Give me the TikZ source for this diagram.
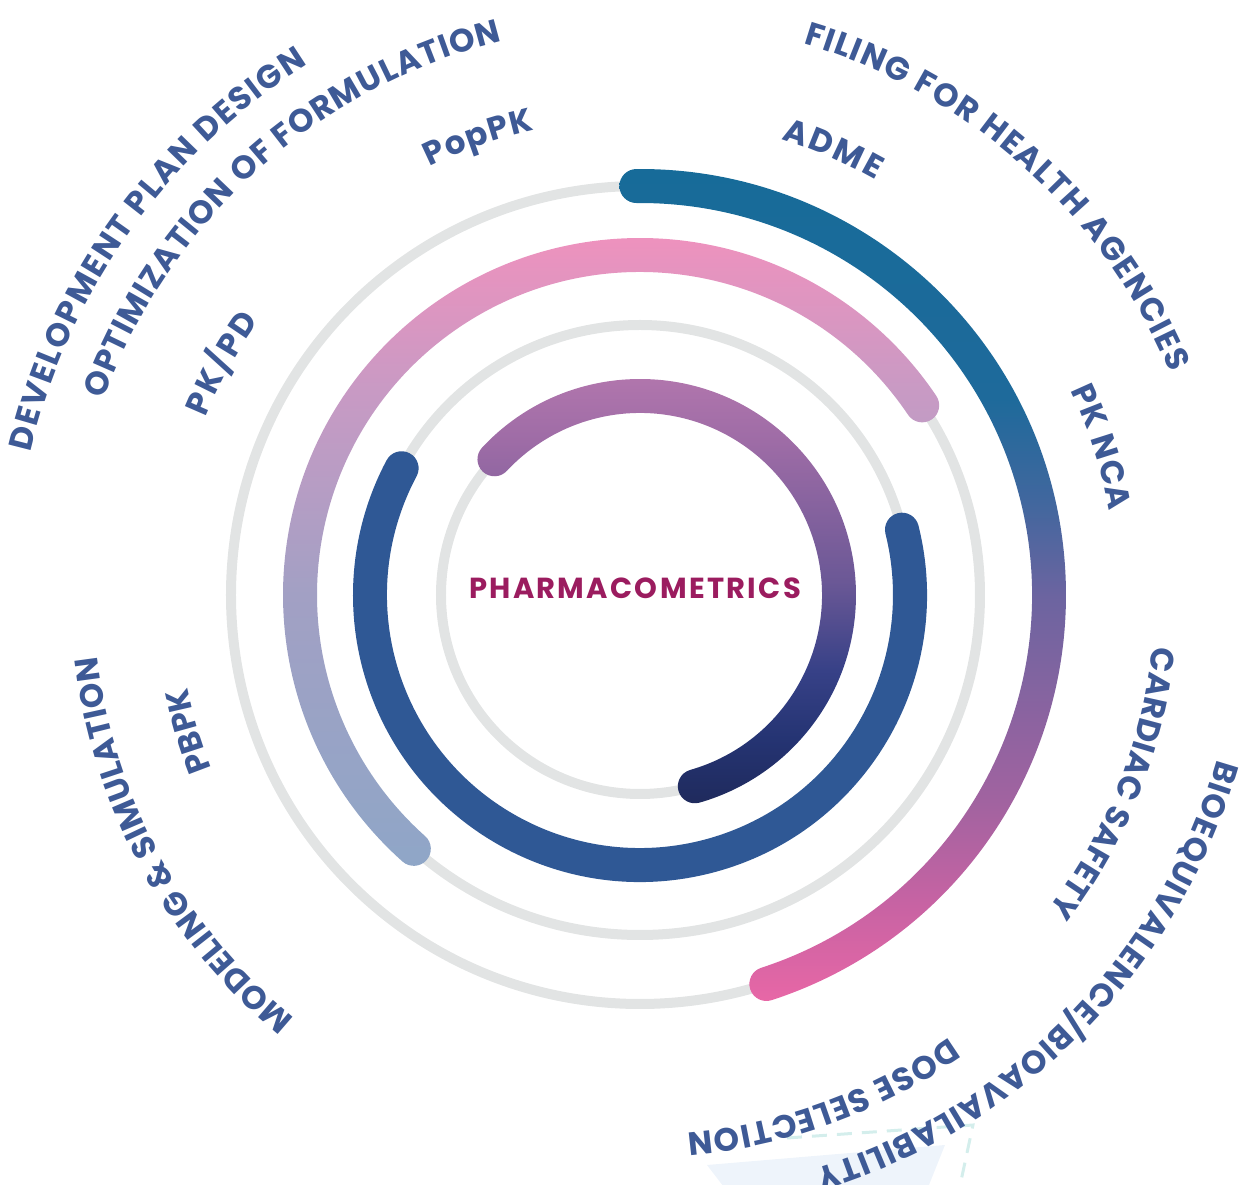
\documentclass[tikz,border=0pt]{standalone}
\usepackage{fontspec}
\setmainfont{Poppins}
\newfontfamily\labelfont{Poppins}
\newfontfamily\titlefont[LetterSpace=8]{Poppins}
\usetikzlibrary{decorations.text}

\definecolor{labelblue}{RGB}{62, 90, 150}
\definecolor{pharmaberry}{RGB}{155, 28, 95}
\definecolor{ringgray}{RGB}{226, 228, 228}
\definecolor{bandblue}{RGB}{47, 88, 149}
\definecolor{paleblue}{RGB}{238, 244, 251}
\definecolor{paleteal}{RGB}{212, 238, 236}
% outer band: teal to pink
\definecolor{tealA}{RGB}{23, 107, 153}
\definecolor{tealB}{RGB}{30, 106, 155}
\definecolor{tealC}{RGB}{65, 103, 158}
\definecolor{tealD}{RGB}{108, 100, 160}
\definecolor{tealE}{RGB}{162, 99, 160}
\definecolor{tealF}{RGB}{199, 99, 163}
\definecolor{tealG}{RGB}{232, 103, 166}
% third band: pink to lavender
\definecolor{rosA}{RGB}{242, 145, 189}
\definecolor{rosB}{RGB}{200, 154, 196}
\definecolor{rosC}{RGB}{175, 158, 196}
\definecolor{rosD}{RGB}{162, 160, 196}
\definecolor{rosE}{RGB}{143, 166, 199}
% inner band: mauve to navy
\definecolor{mauveA}{RGB}{183, 121, 175}
\definecolor{mauveB}{RGB}{158, 108, 166}
\definecolor{mauveC}{RGB}{107, 88, 150}
\definecolor{mauveD}{RGB}{55, 65, 135}
\definecolor{mauveE}{RGB}{37, 52, 115}
\definecolor{mauveF}{RGB}{31, 42, 92}

\pgfdeclareverticalshading{tealfade}{100bp}{color(0bp)=(tealG); color(25bp)=(tealG);
  color(31bp)=(tealF); color(36.9bp)=(tealE); color(49.3bp)=(tealD);
  color(55bp)=(tealC); color(61.1bp)=(tealB); color(75bp)=(tealA); color(100bp)=(tealA)}
\pgfdeclareverticalshading{rosefade}{100bp}{color(0bp)=(rosE); color(25bp)=(rosE);
  color(46.1bp)=(rosD); color(51.3bp)=(rosC); color(61.7bp)=(rosB);
  color(75bp)=(rosA); color(100bp)=(rosA)}
\pgfdeclareverticalshading{mauvefade}{100bp}{color(0bp)=(mauveF); color(25bp)=(mauveF);
  color(32.5bp)=(mauveE); color(40bp)=(mauveD); color(49.9bp)=(mauveC);
  color(65.5bp)=(mauveB); color(75bp)=(mauveA); color(100bp)=(mauveA)}

% round-ended band: radius, start angle, end angle (clockwise), half width
\newcommand{\ringband}[4]{(#2:#1+#4) arc[start angle=#2, end angle=#3, radius=#1+#4]
  arc[start angle=#3, end angle=#3-180, radius=#4]
  arc[start angle=#3, end angle=#2, radius=#1-#4]
  arc[start angle=#2+180, end angle=#2, radius=#4] -- cycle}
\newcommand{\labelsize}{\fontsize{18.5pt}{21pt}\selectfont\bfseries}

\tikzset{
  ring/.style={draw=ringgray, line width=2mm},
  curvedlabel/.style={decorate, decoration={text along path, text align=fit to path,
      text color=labelblue, text={|\labelfont\labelsize|#1}}}
}

\begin{document}
\begin{tikzpicture}[x=0.2mm, y=0.2mm]
  \useasboundingbox (-640,-590) rectangle (618,595);

  % Faint shape at the bottom edge
  \fill[paleblue] (67,-570) -- (305,-550) -- (285,-600) -- (90,-600) -- cycle;
  \draw[paleteal, line width=0.6mm, dashed, dash pattern=on 3mm off 2mm] (147,-543) -- (333,-530) -- (318,-600);

  % Grey rings
  \draw[ring] (0,0) circle[radius=199];
  \draw[ring] (0,0) circle[radius=270];
  \draw[ring] (0,0) circle[radius=340];
  \draw[ring] (0,0) circle[radius=409];

  % Coloured bands
  \shade[shading=tealfade] \ringband{409}{90.5}{-72}{17};
  \shade[shading=rosefade] \ringband{340}{228.3}{33.9}{17};
  \fill[bandblue] \ringband{270}{14}{-208}{17};
  \shade[shading=mauvefade] \ringband{199}{137}{-74}{17};

  % Centre
  \node[font={\titlefont\bfseries\fontsize{16.5pt}{18pt}\selectfont}, text=pharmaberry, inner sep=0pt] (centre) at (-5,7) {PHARMACOMETRICS};

  % Inner labels
  \path[curvedlabel={PopPK}] (116.2:477) arc[start angle=116.2, end angle=102.8, radius=477];
  \path[curvedlabel={ADME}] (72.8:477) arc[start angle=72.8, end angle=60.4, radius=477];
  \path[curvedlabel={PK NCA}] (25.4:477) arc[start angle=25.4, end angle=10.1, radius=477];
  \path[curvedlabel={PK/PD}] (157.7:469) arc[start angle=157.7, end angle=144.3, radius=469];
  \path[curvedlabel={PBPK}] (202:462) arc[start angle=202, end angle=192, radius=462];
  \path[curvedlabel={CARDIAC SAFETY}] (-5.7:515) arc[start angle=-5.7, end angle=-37.5, radius=515];
  \path[curvedlabel={DOSE SELECTION}] (-55:540) arc[start angle=-55, end angle=-85, radius=540];

  % Outer labels
  \path[curvedlabel={MODELING {\&} SIMULATION}] (230.8:546) arc[start angle=230.8, end angle=186.5, radius=546];
  \path[curvedlabel={OPTIMIZATION OF FORMULATION}] (160:571) arc[start angle=160, end angle=104, radius=571];
  \path[curvedlabel={FILING FOR HEALTH AGENCIES}] (73.5:575) arc[start angle=73.5, end angle=22.8, radius=575];
  \path[curvedlabel={BIOEQUIVALENCE/BIOAVAILABILITY}] (-15.9:600) arc[start angle=-15.9, end angle=-73, radius=600];
  \path[curvedlabel={DEVELOPMENT PLAN DESIGN}] (166.8:626) arc[start angle=166.8, end angle=122.1, radius=626];
\end{tikzpicture}
\end{document}
